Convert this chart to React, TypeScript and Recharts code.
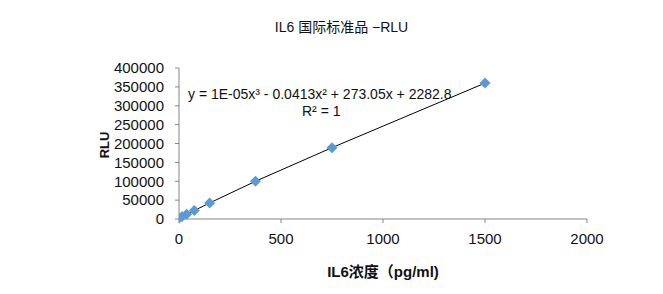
import React from 'react'
import { ScatterChart, Scatter, XAxis, YAxis } from 'recharts'

// IL6 standard concentrations (pg/ml) and measured RLU
const concentrations = [0, 15, 37.5, 75, 150, 375, 750, 1500]
const rluValues = [2300, 6400, 12500, 22500, 42400, 100000, 189000, 360000]

const xTicks = [0, 500, 1000, 1500, 2000]
const yTicks = [0, 50000, 100000, 150000, 200000, 250000, 300000, 350000, 400000]

const FONT = '"Liberation Sans", Arial, "Noto Sans CJK SC", sans-serif'
const MARKER = '#5b9bd5'
const AXIS = '#868686'

const Diamond = (props: any) => {
  const { cx, cy } = props
  if (cx == null || cy == null) return null
  const r = 5.5
  return (
    <polygon
      points={`${cx},${cy - r} ${cx + r},${cy} ${cx},${cy + r} ${cx - r},${cy}`}
      fill={MARKER}
    />
  )
}

export default function App() {
  const data = concentrations.map((x, i) => ({ x, y: rluValues[i] }))

  return (
    <div style={{ position: 'absolute', left: 0, top: 0, width: 663, height: 294, background: '#fff', fontFamily: FONT }}>
      <ScatterChart width={663} height={294} margin={{ top: 68, right: 76, bottom: 0, left: 99 }}>
        <XAxis
          type="number"
          dataKey="x"
          domain={[0, 2000]}
          ticks={xTicks}
          height={75}
          tickSize={4}
          tickMargin={10}
          stroke={AXIS}
          tick={{ fill: '#111', fontSize: 15, fontFamily: FONT }}
          allowDataOverflow
        />
        <YAxis
          type="number"
          dataKey="y"
          domain={[0, 400000]}
          ticks={yTicks}
          width={80}
          tickSize={4}
          tickMargin={11}
          stroke={AXIS}
          tick={{ fill: '#111', fontSize: 15, fontFamily: FONT }}
          interval={0}
        />
        <Scatter
          data={data}
          line={{ stroke: '#000', strokeWidth: 1 }}
          shape={<Diamond />}
          isAnimationActive={false}
        />
      </ScatterChart>

      <div style={{ position: 'absolute', left: 0, width: 663, top: 16, textAlign: 'center', fontSize: 14, color: '#111', paddingLeft: 10 }}>
        IL6 国际标准品 −RLU
      </div>

      <div style={{ position: 'absolute', left: 188, top: 86, fontSize: 14, color: '#111', whiteSpace: 'nowrap' }}>
        y = 1E-05x³ - 0.0413x² + 273.05x + 2282.8
      </div>
      <div style={{ position: 'absolute', left: 302, top: 103, fontSize: 14, color: '#111', whiteSpace: 'nowrap' }}>
        R² = 1
      </div>

      <div style={{ position: 'absolute', left: 179, width: 408, top: 260, textAlign: 'center', fontSize: 15, fontWeight: 'bold', color: '#111' }}>
        IL6浓度（pg/ml)
      </div>

      <div
        style={{
          position: 'absolute', left: 104, top: 145, fontSize: 13, fontWeight: 'bold', color: '#111',
          transform: 'translate(-50%, -50%) rotate(-90deg)', whiteSpace: 'nowrap',
        }}
      >
        RLU
      </div>
    </div>
  )
}
